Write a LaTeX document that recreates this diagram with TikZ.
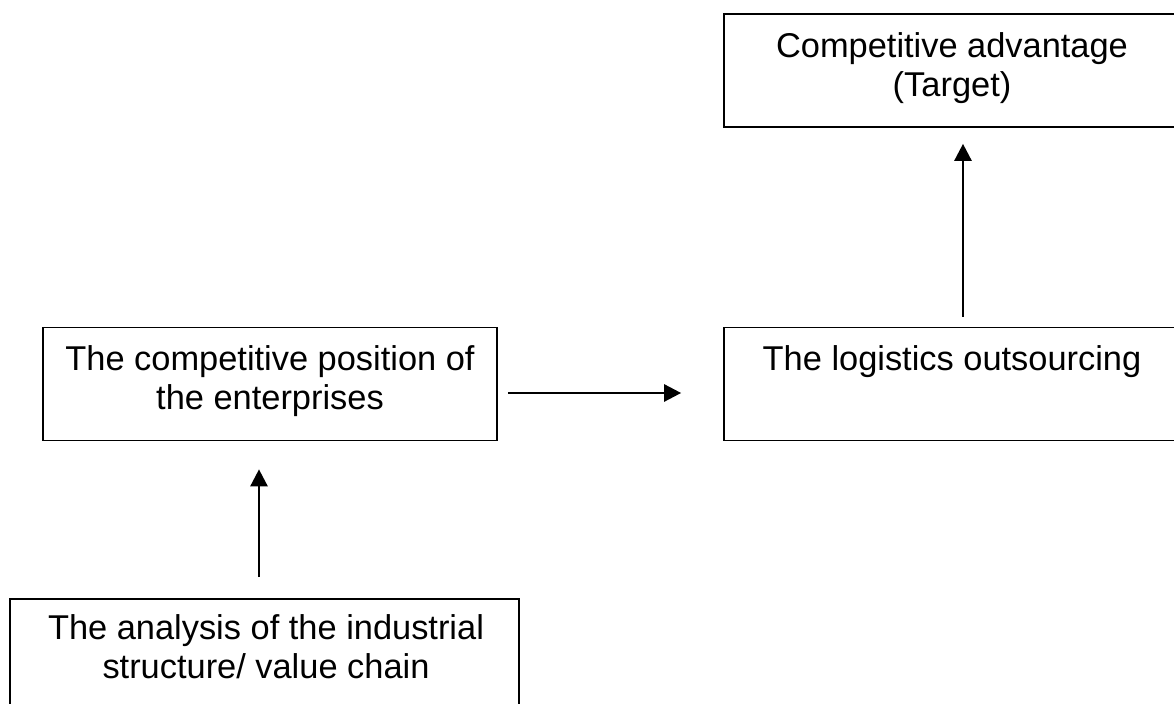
\documentclass[tikz,border=0pt]{standalone}
\usepackage{fontspec}
\setmainfont{Liberation Sans}
\usetikzlibrary{arrows.meta}
\begin{document}
\begin{tikzpicture}[x=0.5pt,y=0.5pt,
  boxnode/.style={draw=black,line width=0.85pt,rectangle,inner sep=0pt,minimum height=56.5pt},
  lbl/.style={inner sep=0pt,align=center,font=\fontsize{17.2}{19.5}\selectfont,anchor=north},
  arr/.style={line width=1.3pt,-{Triangle[length=8.5pt,width=8.5pt]}}]
\useasboundingbox (0,0) rectangle (1174,-704);
\clip (0,0) rectangle (1174,-704);
% boxes
\node[boxnode,minimum width=228pt] (tgt) at (952,-70.5) {};
\node[boxnode,minimum width=227pt] (pos) at (270,-384) {};
\node[boxnode,minimum width=228pt] (log) at (952,-384) {};
\node[boxnode,minimum width=254.5pt] (ana) at (264.5,-655.5) {};
% texts
\node[lbl] (tgtT) at ([yshift=-9.5pt]tgt.north) {Competitive advantage\\(Target)};
\node[lbl] (posT) at ([yshift=-9.5pt]pos.north) {The competitive position of\\the enterprises};
\node[lbl] (logT) at ([yshift=-9.5pt]log.north) {The logistics outsourcing};
\node[lbl] (anaT) at ([xshift=0.75pt,yshift=-8pt]ana.north) {The analysis of the industrial\\structure/ value chain};
% connectors
\draw[arr] ([xshift=5pt,yshift=-4.5pt]pos.east) -- ([xshift=-21pt,yshift=-4.5pt]log.west);
\draw[arr] ([xshift=-2.75pt,yshift=10.5pt]ana.north) -- ([xshift=-5.5pt,yshift=-14pt]pos.south);
\draw[arr] ([xshift=5.5pt,yshift=5pt]log.north) -- ([xshift=5.5pt,yshift=-8pt]tgt.south);
\end{tikzpicture}
\end{document}
